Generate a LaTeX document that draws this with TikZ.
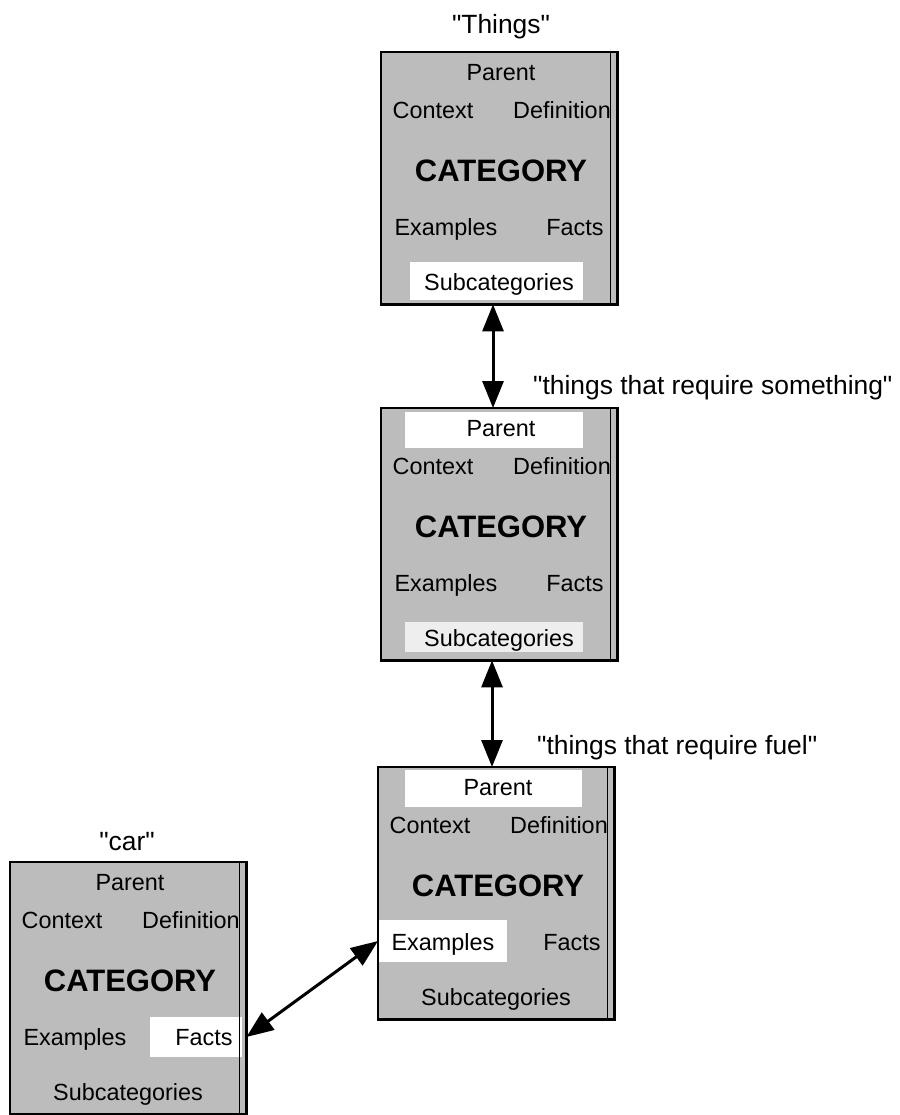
\documentclass[tikz,border=0pt]{standalone}
\usepackage{fontspec}
\setmainfont{Liberation Sans}[Ligatures=TeXOff]
\usetikzlibrary{calc,arrows.meta}

\definecolor{halftone}{RGB}{188,188,188}
\definecolor{paleshade}{RGB}{238,238,238}

\begin{document}
\begin{tikzpicture}[x=1pt,y=-1pt,
  catbox/.style={fill=halftone, draw=none, minimum width=236pt, minimum height=252pt,
                 inner sep=0pt, anchor=north west},
  outline/.style={draw=black, line width=2.6pt},
  innerrule/.style={draw=black, line width=1.4pt},
  panel/.style={inner sep=0pt, draw=none},
  boxtext/.style={font=\fontsize{23.4}{26}\selectfont, inner sep=0pt,
                  text height=16.8pt, text depth=0pt},
  headword/.style={font=\fontsize{31}{34}\selectfont\bfseries, inner sep=0pt,
                   text height=22.3pt, text depth=0pt},
  caption/.style={font=\fontsize{26.4}{30}\selectfont, inner sep=0pt},
  link/.style={line width=3pt,
               {Triangle[length=27pt,width=21pt]}-{Triangle[length=27pt,width=21pt]}},
]
\useasboundingbox (0,0) rectangle (899,1115);

% category frames
\node[catbox] (b1) at (381,52) {};
\node[catbox] (b2) at (381,408) {};
\node[catbox] (b3) at (378,767) {};
\node[catbox] (b4) at (10,862) {};

% highlighted slots
\node[panel, fill=white, minimum width=173pt, minimum height=38pt]
  (b1-subpanel) at ($(b1.north west)+(115.5,229)$) {};
\node[panel, fill=white, minimum width=178pt, minimum height=36pt]
  (b2-parpanel) at ($(b2.north west)+(113,22)$) {};
\node[panel, fill=paleshade, minimum width=178pt, minimum height=30pt]
  (b2-subpanel) at ($(b2.north west)+(113,229)$) {};
\node[panel, fill=white, minimum width=177pt, minimum height=37pt]
  (b3-parpanel) at ($(b3.north west)+(115.5,21.5)$) {};
\node[panel, fill=white, minimum width=129pt, minimum height=42pt]
  (b3-expanel) at ($(b3.north west)+(64.5,174)$) {};
\node[panel, fill=white, minimum width=92pt, minimum height=40pt]
  (b4-factspanel) at ($(b4.north west)+(186,175)$) {};

% slot names
\foreach \b in {b1,b2,b3,b4} {
  \node[boxtext] (\b-parent) at ($(\b.north west)+(120,20)$) {Parent};
  \node[boxtext] (\b-context) at ($(\b.north west)+(52,58)$) {Context};
  \node[boxtext] (\b-definition) at ($(\b.north west)+(181,58)$) {Definition};
  \node[headword] (\b-category) at ($(\b.north west)+(120,118)$) {CATEGORY};
  \node[boxtext] (\b-examples) at ($(\b.north west)+(65,175)$) {Examples};
  \node[boxtext] (\b-facts) at ($(\b.north west)+(194,175)$) {Facts};
  \node[boxtext] (\b-subcategories) at ($(\b.north west)+(118,230)$) {Subcategories};
  \draw[outline] (\b.north west) rectangle (\b.south east);
  \draw[innerrule] ($(\b.north east)+(-7,0)$) -- ($(\b.south east)+(-7,0)$);
}

% names of the categories
\node[caption, anchor=base] (n1) at (501,34) {"Things"};
\node[caption, anchor=base west] (n2) at (533,394) {"things that require something"};
\node[caption, anchor=base west] (n3) at (537,754) {"things that require fuel"};
\node[caption, anchor=base] (n4) at (127,850) {"car"};

% links between categories
\draw[link] ($(b1.south west)+(112,0)$) -- ($(b2.north west)+(112,0)$);
\draw[link] ($(b2.south west)+(111,0)$) -- ($(b3.north west)+(114,0)$);
\draw[link] (b4-factspanel.east -| b4.east) -- (b3-expanel.west -| b3.west);
\end{tikzpicture}
\end{document}
